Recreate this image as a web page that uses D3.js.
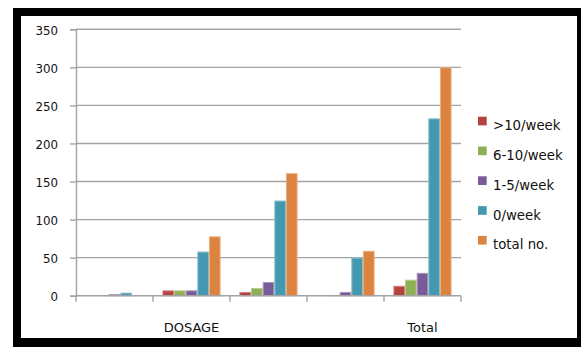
<!DOCTYPE html>
<html>
<head>
<meta charset="utf-8">
<script src="https://cdn.jsdelivr.net/npm/d3@7"></script>
<style>
  html, body { margin: 0; padding: 0; background: #fff; }
  svg { display: block; }
  text { font-family: "DejaVu Sans", sans-serif; fill: #111; }
</style>
</head>
<body>
<svg id="chart" width="581" height="348"></svg>
<script>
// Category labels along the x axis (only two are named)
const categories = ["", "DOSAGE", "", "", "Total"];
const seriesNames = [">10/week", "6-10/week", "1-5/week", "0/week", "total no."];
const seriesColors = ["#B5423F", "#8EAF52", "#7A5B9A", "#4499B1", "#DC843F"];

// Values per series, one per category
const over10 = [0, 7, 5, 0, 13];
const six10 = [0, 7, 10, 1, 21];
const one5 = [2, 7, 18, 5, 30];
const zero = [4, 58, 125, 50, 233];
const totalNo = [0, 78, 161, 59, 300];

const yTicks = [0, 50, 100, 150, 200, 250, 300, 350];

const seriesValues = [over10, six10, one5, zero, totalNo];

const svg = d3.select("#chart");

// Frame
svg.append("rect").attr("x", 13).attr("y", 8).attr("width", 568).attr("height", 339).attr("fill", "#000");
svg.append("rect").attr("x", 21).attr("y", 16).attr("width", 556).attr("height", 322).attr("fill", "#fff");

const plot = { left: 76, right: 461, top: 29.3, bottom: 295.7 };

const x = d3.scaleBand().domain(d3.range(categories.length)).range([plot.left, plot.right]).padding(0);
const inner = d3.scaleBand().domain(d3.range(seriesNames.length))
  .range([9.4, x.bandwidth() - 9.4]).padding(0);
const y = d3.scaleLinear().domain([0, 350]).range([plot.bottom, plot.top]);

const grey = "#A3A3A3";

// Horizontal gridlines
svg.append("g").selectAll("line").data(yTicks.filter(d => d > 0)).join("line")
  .attr("x1", plot.left).attr("x2", plot.right)
  .attr("y1", d => y(d)).attr("y2", d => y(d))
  .attr("stroke", grey).attr("stroke-width", 1.4);

// Y axis
const yAxis = svg.append("g").attr("transform", `translate(${plot.left},0)`)
  .call(d3.axisLeft(y).tickValues(yTicks).tickSize(6).tickPadding(12));
yAxis.select(".domain").attr("stroke", grey).attr("stroke-width", 1.4);
yAxis.selectAll(".tick line").attr("stroke", grey).attr("stroke-width", 1.4);
yAxis.selectAll(".tick text")
  .style("font-family", "DejaVu Sans, sans-serif").style("font-size", "11.8px")
  .attr("fill", "#111").attr("dy", "0.42em");

// Bars
const groups = svg.append("g").selectAll("g").data(seriesValues).join("g")
  .attr("fill", (d, i) => seriesColors[i])
  .attr("stroke", (d, i) => d3.interpolateRgb(seriesColors[i], "#fff")(0.35));
groups.each(function (vals, si) {
  d3.select(this).selectAll("rect").data(vals).join("rect")
    .attr("x", (v, ci) => x(ci) + inner(si) + 0.5)
    .attr("y", v => y(v) + 0.5)
    .attr("width", inner.bandwidth() - 1)
    .attr("height", v => Math.max(0, y(0) - y(v) - 0.5))
    .attr("stroke-width", v => v > 0 ? 1 : 0);
});

// X axis
const xAxis = svg.append("g").attr("transform", `translate(0,${plot.bottom})`);
xAxis.append("line").attr("x1", plot.left).attr("x2", plot.right)
  .attr("stroke", grey).attr("stroke-width", 1.4);
xAxis.selectAll("line.tk").data(d3.range(categories.length + 1)).join("line")
  .attr("class", "tk")
  .attr("x1", i => plot.left + i * x.step()).attr("x2", i => plot.left + i * x.step())
  .attr("y1", 0).attr("y2", 6)
  .attr("stroke", grey).attr("stroke-width", 1.4);
xAxis.selectAll("text").data(categories).join("text")
  .attr("x", (d, i) => x(i) + x.bandwidth() / 2)
  .attr("y", 36.5)
  .attr("text-anchor", "middle")
  .style("font-size", "13px")
  .text(d => d);

// Legend
const legend = svg.append("g").selectAll("g").data(seriesNames).join("g")
  .attr("transform", (d, i) => `translate(478,${116.7 + i * 29.8})`);
legend.append("rect").attr("width", 8.7).attr("height", 8.7)
  .attr("fill", (d, i) => seriesColors[i]);
legend.append("text").attr("x", 15).attr("y", 13.5)
  .style("font-size", "13.3px").text(d => d);
</script>
</body>
</html>
